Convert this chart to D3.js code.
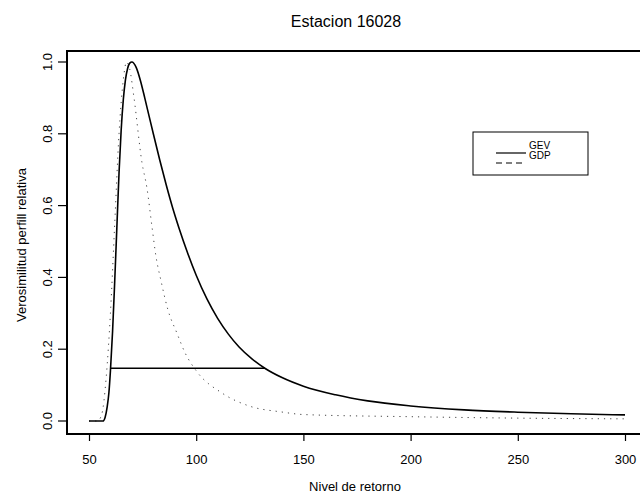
<!DOCTYPE html>
<html>
<head>
<meta charset="utf-8">
<script src="https://cdn.jsdelivr.net/npm/d3@7"></script>
<style>
  body { margin: 0; background: #fff; }
  text { font-family: "Liberation Sans", Arial, sans-serif; fill: #000; }
</style>
</head>
<body>
<div id="graph-container"></div>
<script>
// Data
const gevX = [50, 56.5, 57.5, 58.5, 59.3, 60, 61, 62, 63, 64, 65, 66, 67, 68, 69, 70, 72, 74, 76, 78, 80, 83, 86, 89, 92, 96, 100, 105, 110, 115, 120, 126, 132, 140, 150, 165, 180, 200, 225, 250, 275, 300];
const gevY = [0, 0, 0.01, 0.04, 0.08, 0.14, 0.25, 0.39, 0.54, 0.69, 0.81, 0.895, 0.95, 0.982, 0.997, 1.0, 0.985, 0.948, 0.9, 0.85, 0.8, 0.727, 0.658, 0.594, 0.537, 0.468, 0.406, 0.34, 0.286, 0.242, 0.206, 0.173, 0.147, 0.121, 0.097, 0.073, 0.056, 0.042, 0.031, 0.0245, 0.02, 0.017];
const gdpX = [50, 54, 56, 58, 60, 62, 64, 66, 67.5, 69, 71, 74.7, 77, 79.4, 81.2, 83.6, 86.8, 91, 94.8, 100, 112, 124.6, 140, 150, 200, 250, 300];
const gdpY = [0, 0, 0.02, 0.12, 0.3, 0.55, 0.8, 0.95, 1.0, 0.98, 0.9, 0.72, 0.65, 0.54, 0.46, 0.39, 0.31, 0.245, 0.19, 0.14, 0.078, 0.042, 0.025, 0.018, 0.012, 0.008, 0.006];
const ciLevel = 0.147;
const ciBounds = [59.8, 132];
const xTicks = [50, 100, 150, 200, 250, 300];
const yTicks = [0, 0.2, 0.4, 0.6, 0.8, 1.0];
const seriesNames = ["GEV", "GDP"];

const W = 640, H = 500;
const box = { left: 67, top: 51, right: 642, bottom: 434 };

const x = d3.scaleLinear().domain([50, 300]).range([89, 625]);
const y = d3.scaleLinear().domain([0, 1]).range([421, 62]);

const svg = d3.select("#graph-container")
  .append("svg")
    .attr("width", W)
    .attr("height", H);

// Plot frame
svg.append("rect")
  .attr("x", box.left).attr("y", box.top)
  .attr("width", box.right - box.left).attr("height", box.bottom - box.top)
  .attr("fill", "none").attr("stroke", "#000").attr("stroke-width", 2);

// x axis
const xAxis = svg.append("g")
  .attr("transform", `translate(0,${box.bottom})`)
  .call(d3.axisBottom(x).tickValues(xTicks).tickSize(7).tickPadding(14).tickFormat(d3.format("d")));
xAxis.select(".domain").remove();
xAxis.selectAll("line").attr("stroke", "#000").attr("stroke-width", 1.2);
xAxis.selectAll("text").attr("font-size", 13).attr("font-family", "Liberation Sans, Arial, sans-serif");

// y axis with rotated labels
const yAxis = svg.append("g")
  .attr("transform", `translate(${box.left},0)`)
  .call(d3.axisLeft(y).tickValues(yTicks).tickSize(9).tickFormat(d3.format(".1f")));
yAxis.select(".domain").remove();
yAxis.selectAll(".tick").attr("transform", null);
yAxis.selectAll(".tick line")
  .attr("stroke", "#000").attr("stroke-width", 1.2)
  .attr("y1", d => y(d)).attr("y2", d => y(d)).attr("x2", -9);
yAxis.selectAll(".tick text")
  .attr("font-size", 13)
  .attr("font-family", "Liberation Sans, Arial, sans-serif")
  .attr("text-anchor", "middle")
  .attr("x", 0).attr("y", 0).attr("dy", null)
  .attr("dominant-baseline", "central")
  .attr("transform", d => `translate(-20,${y(d)}) rotate(-90)`);

// Titles
svg.append("text")
  .attr("x", 346).attr("y", 27)
  .attr("text-anchor", "middle").attr("font-size", 16)
  .text("Estacion 16028");

svg.append("text")
  .attr("x", 355).attr("y", 491)
  .attr("text-anchor", "middle").attr("font-size", 13)
  .text("Nivel de retorno");

svg.append("text")
  .attr("transform", `translate(26,245) rotate(-90)`)
  .attr("text-anchor", "middle").attr("font-size", 13)
  .text("Verosimilitud perfill relativa");

// Curves
const line = d3.line()
  .x(d => x(d[0]))
  .y(d => y(d[1]))
  .curve(d3.curveMonotoneX);

svg.append("path")
  .datum(gdpX.map((v, i) => [v, gdpY[i]]))
  .attr("fill", "none")
  .attr("stroke", "#444")
  .attr("stroke-width", 1)
  .attr("stroke-dasharray", "1.2,5")
  .attr("d", line);

svg.append("path")
  .datum(gevX.map((v, i) => [v, gevY[i]]))
  .attr("fill", "none")
  .attr("stroke", "#000")
  .attr("stroke-width", 1.6)
  .attr("d", line);

// Confidence level line
svg.append("line")
  .attr("x1", x(ciBounds[0])).attr("x2", x(ciBounds[1]))
  .attr("y1", y(ciLevel)).attr("y2", y(ciLevel))
  .attr("stroke", "#000").attr("stroke-width", 1.6);

// Legend
const lg = svg.append("g");
lg.append("rect")
  .attr("x", 473).attr("y", 132).attr("width", 115).attr("height", 43)
  .attr("fill", "#fff").attr("stroke", "#000").attr("stroke-width", 1);
seriesNames.forEach((name, i) => {
  const ty = 149 + i * 10;
  lg.append("line")
    .attr("x1", 496).attr("x2", 526).attr("y1", ty + 4).attr("y2", ty + 4)
    .attr("stroke", "#000").attr("stroke-width", 1.2)
    .attr("stroke-dasharray", i === 0 ? null : "6,4");
  lg.append("text")
    .attr("x", 529).attr("y", ty)
    .attr("font-size", 10)
    .text(name);
});
</script>
</body>
</html>
